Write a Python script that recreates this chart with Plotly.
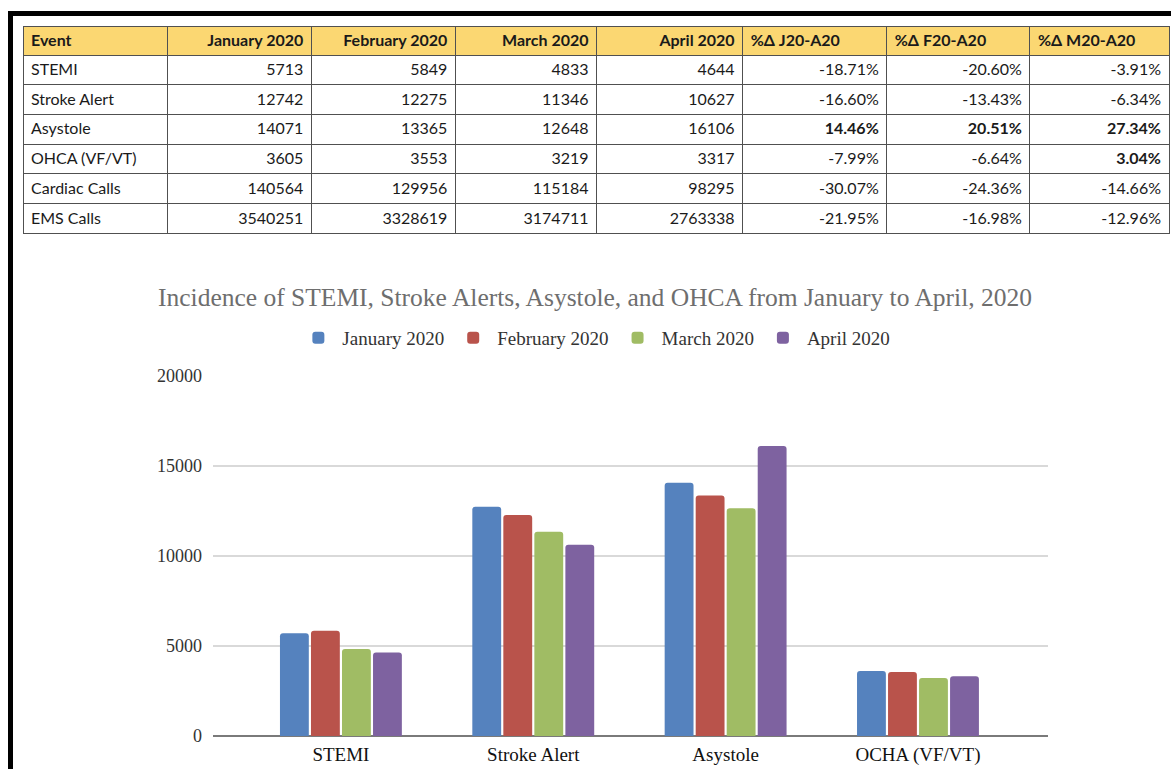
import plotly.graph_objects as go

# ---------------- data ----------------
events = ["STEMI", "Stroke Alert", "Asystole", "OHCA (VF/VT)", "Cardiac Calls", "EMS Calls"]
jan_2020 = [5713, 12742, 14071, 3605, 140564, 3540251]
feb_2020 = [5849, 12275, 13365, 3553, 129956, 3328619]
mar_2020 = [4833, 11346, 12648, 3219, 115184, 3174711]
apr_2020 = [4644, 10627, 16106, 3317, 98295, 2763338]
pct_j20_a20 = ["-18.71%", "-16.60%", "14.46%", "-7.99%", "-30.07%", "-21.95%"]
pct_f20_a20 = ["-20.60%", "-13.43%", "20.51%", "-6.64%", "-24.36%", "-16.98%"]
pct_m20_a20 = ["-3.91%", "-6.34%", "27.34%", "3.04%", "-14.66%", "-12.96%"]
table_headers = ["Event", "January 2020", "February 2020", "March 2020", "April 2020",
                 "%\u0394 J20-A20", "%\u0394 F20-A20", "%\u0394 M20-A20"]

chart_categories = ["STEMI", "Stroke Alert", "Asystole", "OCHA (VF/VT)"]
series_names = ["January 2020", "February 2020", "March 2020", "April 2020"]
series_values = [jan_2020[:4], feb_2020[:4], mar_2020[:4], apr_2020[:4]]
series_colors = ["#5582be", "#b9534b", "#a0bc64", "#7e62a0"]
y_ticks = [0, 5000, 10000, 15000, 20000]

W, H = 1171, 769

def px_x(x):
    return x / W

def px_y(y):
    return 1 - y / H

# positive changes are shown in bold (drawn by an overlay table)
def plain_part(col):
    return ["" if not v.startswith("-") else v for v in col]

def bold_part(col):
    return [v if not v.startswith("-") else "" for v in col]

pct_cols = [pct_j20_a20, pct_f20_a20, pct_m20_a20]
blank = [""] * len(events)

table_domain = dict(x=[px_x(23), px_x(1169)], y=[px_y(245), px_y(26)])
col_widths = [144, 144, 144, 141, 146, 144, 143, 139]
table_font = "Lato, Open Sans, sans-serif"
ROW_H = 29.7
HEAD_H = 29

fig = go.Figure()

# ---------------- table ----------------
fig.add_trace(go.Table(
    domain=table_domain,
    columnwidth=col_widths,
    header=dict(
        values=table_headers,
        fill_color="#fbd772",
        line=dict(color="#505050", width=1),
        align=["left", "right", "right", "right", "right", "left", "left", "left"],
        font=dict(family=table_font, size=16, color="#1a1a1a", weight="bold"),
        height=HEAD_H,
    ),
    cells=dict(
        values=[events, jan_2020, feb_2020, mar_2020, apr_2020] + [plain_part(c) for c in pct_cols],
        fill_color="white",
        line=dict(color="#505050", width=1),
        align=["left"] + ["right"] * 7,
        font=dict(family=table_font, size=16, color="#1a1a1a"),
        height=ROW_H,
    ),
))
# overlay with the bold cells only
fig.add_trace(go.Table(
    domain=table_domain,
    columnwidth=col_widths,
    header=dict(
        values=[""] * 8,
        fill_color="rgba(0,0,0,0)",
        line=dict(color="rgba(0,0,0,0)", width=1),
        height=HEAD_H,
    ),
    cells=dict(
        values=[blank] * 5 + [bold_part(c) for c in pct_cols],
        fill_color="rgba(0,0,0,0)",
        line=dict(color="rgba(0,0,0,0)", width=1),
        align=["left"] + ["right"] * 7,
        font=dict(family=table_font, size=16, color="#1a1a1a", weight="bold"),
        height=ROW_H,
    ),
))

# ---------------- bar chart ----------------
for name, vals, col in zip(series_names, series_values, series_colors):
    fig.add_trace(go.Bar(
        x=chart_categories, y=vals, name=name,
        marker=dict(color=col, cornerradius=3, line=dict(width=0)),
        hoverinfo="x+y+name",
    ))

serif = "Liberation Serif, Times New Roman, serif"

fig.update_layout(
    width=W, height=H,
    margin=dict(l=0, r=0, t=0, b=0, pad=0, autoexpand=False),
    paper_bgcolor="white",
    plot_bgcolor="white",
    barmode="group",
    bargap=0.355,
    bargroupgap=0.07,
    showlegend=True,
    legend=dict(
        orientation="h", x=0.508, xanchor="center", y=px_y(338), yanchor="middle",
        font=dict(family=serif, size=19, color="#333333"),
        itemwidth=38, tracegroupgap=0, itemclick=False,
    ),
    xaxis=dict(
        domain=[px_x(213), px_x(1048)],
        range=[-0.665, 3.676],
        showgrid=False, showline=False, ticks="", automargin=False,
        ticklabelstandoff=5,
        tickfont=dict(family=serif, size=19, color="#111111"),
        anchor="y",
    ),
    yaxis=dict(
        domain=[px_y(736), px_y(376)],
        range=[0, 20000],
        tickvals=y_ticks,
        ticktext=[str(v) for v in y_ticks],
        showgrid=True, gridcolor="#d9d9d9", gridwidth=2,
        zeroline=True, zerolinecolor="#7a7a7a", zerolinewidth=2,
        showline=False, ticks="", ticklabelstandoff=10, automargin=False,
        tickfont=dict(family=serif, size=18, color="#333333"),
    ),
    annotations=[dict(
        text="Incidence of STEMI, Stroke Alerts, Asystole, and OHCA from January to April, 2020",
        x=px_x(595), y=px_y(297), xref="paper", yref="paper",
        xanchor="center", yanchor="middle", showarrow=False,
        font=dict(family=serif, size=25.5, color="#6e6e6e"),
    )],
    shapes=[
        dict(type="rect", xref="paper", yref="paper",
             x0=px_x(8), x1=1.0, y0=px_y(16), y1=px_y(11),
             fillcolor="black", line=dict(width=0), layer="above"),
        dict(type="rect", xref="paper", yref="paper",
             x0=px_x(8), x1=px_x(13), y0=0.0, y1=px_y(11),
             fillcolor="black", line=dict(width=0), layer="above"),
    ],
)

fig.write_html(
    "out.html",
    config={"displayModeBar": False},
    post_script="document.body.style.margin='0';document.body.style.overflow='hidden';",
)
